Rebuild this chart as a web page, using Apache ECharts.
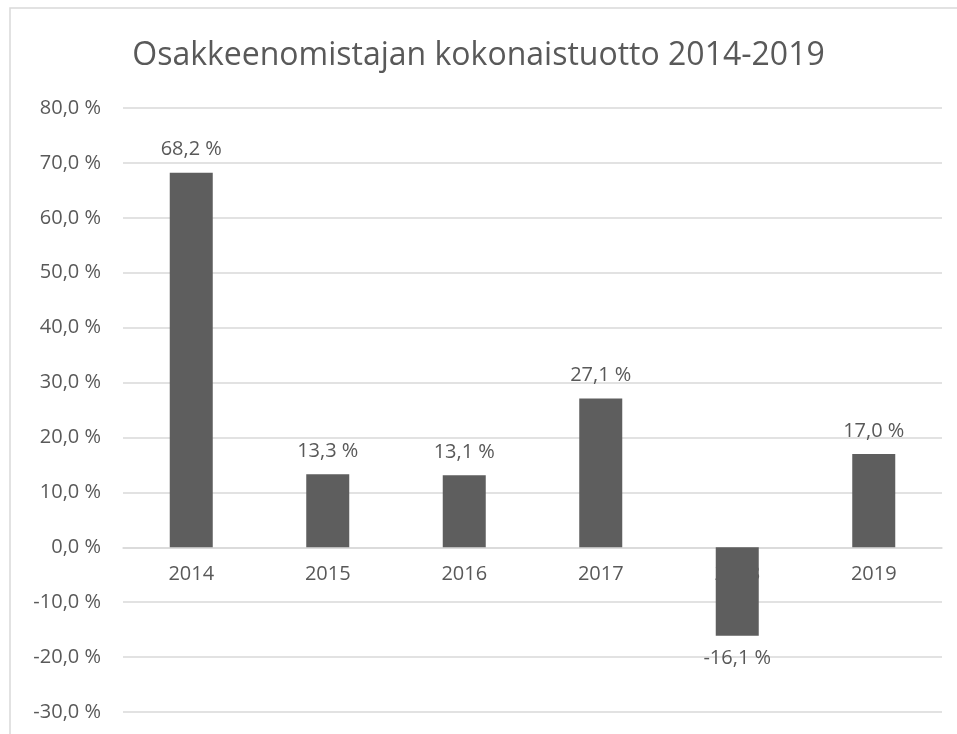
<!DOCTYPE html>
<html>
<head>
<meta charset="utf-8">
<script src="https://cdn.jsdelivr.net/npm/echarts@6/dist/echarts.min.js"></script>
<style>
  html, body { margin: 0; padding: 0; background: #fff; }
  #chart { width: 957px; height: 734px; }
</style>
</head>
<body>
<div id="chart"></div>
<script>
var years = ['2014', '2015', '2016', '2017', '2018', '2019'];
var returns = [68.2, 13.3, 13.1, 27.1, -16.1, 17.0];
var yMin = -30, yMax = 80;

function pct(v) {
  return v.toFixed(1).replace('.', ',') + ' %';
}

var gridTop = 108, gridBottom = 22;
var plotH = 734 - gridTop - gridBottom;
// distance from the bottom of the grid to the zero line
var zeroOffset = plotH * (0 - yMin) / (yMax - yMin);

var myChart = echarts.init(document.getElementById('chart'));
var option = {
  backgroundColor: '#fff',
  textStyle: { fontFamily: '"Open Sans", sans-serif' },
  title: {
    text: 'Osakkeenomistajan kokonaistuotto 2014-2019',
    left: 'center',
    top: 35,
    textStyle: {
      color: '#595959',
      fontSize: 32,
      fontWeight: 'normal',
      fontFamily: '"Open Sans", sans-serif'
    }
  },
  graphic: [{
    type: 'rect',
    shape: { x: 10, y: 8, width: 980, height: 760 },
    style: { fill: 'none', stroke: '#d9d9d9', lineWidth: 1.5 },
    silent: true
  }],
  grid: {
    left: 123,
    right: 15,
    top: gridTop,
    bottom: gridBottom,
    outerBoundsMode: 'none'
  },
  xAxis: {
    type: 'category',
    data: years,
    position: 'bottom',
    offset: -zeroOffset,
    axisLine: { show: true, onZero: false, lineStyle: { color: '#d9d9d9', width: 1.5 } },
    axisTick: { show: false },
    axisLabel: { color: '#595959', fontSize: 20, margin: 17 }
  },
  yAxis: {
    type: 'value',
    min: yMin,
    max: yMax,
    interval: 10,
    axisLine: { show: false },
    axisTick: { show: false },
    splitLine: { lineStyle: { color: '#d9d9d9', width: 1.5 } },
    axisLabel: {
      color: '#595959',
      fontSize: 20,
      margin: 22,
      formatter: function (v) { return pct(v); }
    }
  },
  series: [{
    type: 'bar',
    data: returns,
    barWidth: 43,
    itemStyle: { color: '#5e5e5e' },
    label: {
      show: true,
      position: 'outside',
      color: '#595959',
      fontSize: 20,
      distance: 13,
      formatter: function (p) { return pct(p.value); }
    }
  }]
};
myChart.setOption(option);
</script>
</body>
</html>
